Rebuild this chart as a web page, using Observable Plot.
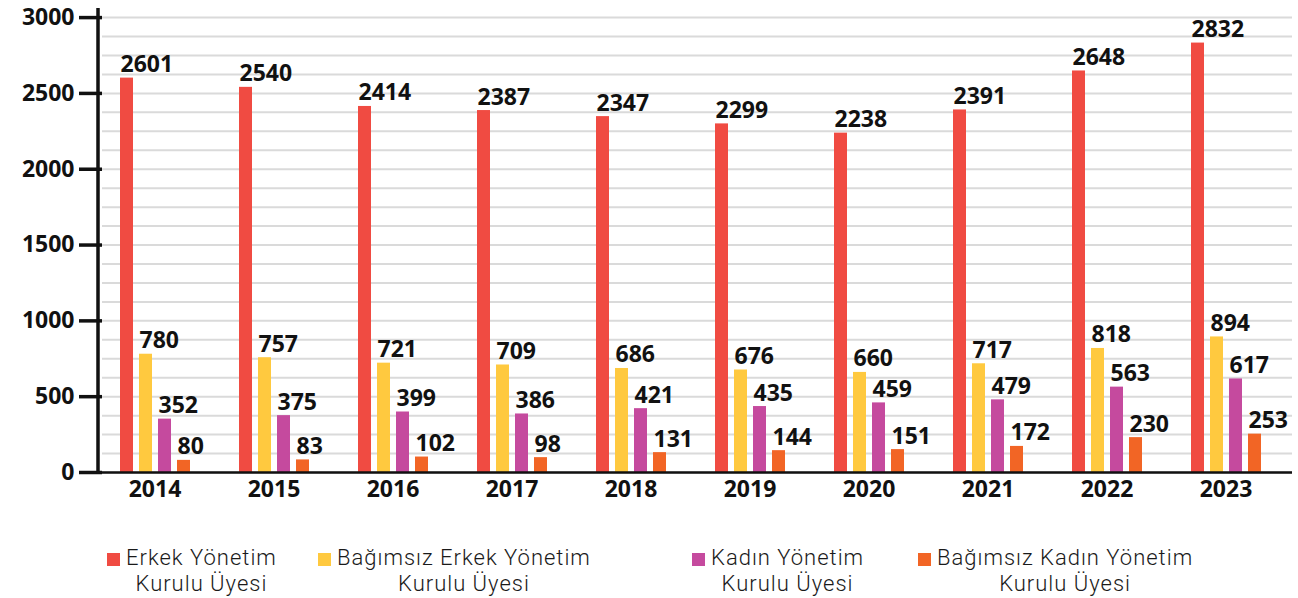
<!DOCTYPE html>
<html>
<head>
<meta charset="utf-8">
<script src="https://cdn.jsdelivr.net/npm/d3@7"></script>
<script src="https://cdn.jsdelivr.net/npm/@observablehq/plot@0.6"></script>
<style>
  html, body { margin: 0; padding: 0; background: #fff; }
  #chart { position: relative; width: 1298px; }
  #legend { position: relative; width: 1298px; height: 84px; font-family: Roboto, sans-serif; font-weight: 300; font-size: 22px; letter-spacing: 1px; color: #1a1a1a; }
  .item { position: absolute; top: 31px; display: flex; align-items: flex-start; }
  .sw { width: 13px; height: 13px; margin-top: 8px; margin-right: 6px; flex: none; }
  .lbl { text-align: center; white-space: nowrap; }
  .lbl div { height: 26px; line-height: 26px; }
  svg text { font-family: "Open Sans", sans-serif; }
</style>
</head>
<body>
<div id="chart"></div>
<div id="legend"></div>
<script>
const years = ["2014","2015","2016","2017","2018","2019","2020","2021","2022","2023"];
const erkek    = [2601, 2540, 2414, 2387, 2347, 2299, 2238, 2391, 2648, 2832];
const bagErkek = [780, 757, 721, 709, 686, 676, 660, 717, 818, 894];
const kadin    = [352, 375, 399, 386, 421, 435, 459, 479, 563, 617];
const bagKadin = [80, 83, 102, 98, 131, 144, 151, 172, 230, 253];
const seriesNames = ["Erkek Yönetim Kurulu Üyesi", "Bağımsız Erkek Yönetim Kurulu Üyesi", "Kadın Yönetim Kurulu Üyesi", "Bağımsız Kadın Yönetim Kurulu Üyesi"];
const legendLine1 = ["Erkek Yönetim", "Bağımsız Erkek Yönetim", "Kadın Yönetim", "Bağımsız Kadın Yönetim"];
const legendLine2 = ["Kurulu Üyesi", "Kurulu Üyesi", "Kurulu Üyesi", "Kurulu Üyesi"];
const colors = ["#F04B42", "#FFC93F", "#C54A9E", "#F26525"];
const yTicks = [0, 500, 1000, 1500, 2000, 2500, 3000];
const gridValues = d3.range(0, 3001, 125);

const seriesValues = [erkek, bagErkek, kadin, bagKadin];
const rows = [];
years.forEach((y, i) => seriesNames.forEach((s, j) => rows.push({year: y, series: s, value: seriesValues[j][i]})));

const chart = Plot.plot({
  width: 1298,
  height: 514,
  marginLeft: 98,
  marginRight: 2,
  marginTop: 8,
  marginBottom: 42,
  style: {background: "white", fontFamily: "Open Sans, sans-serif"},
  fx: {domain: years, padding: 0, label: null},
  x: {domain: seriesNames, paddingInner: 0.33, paddingOuter: 1.27, align: 0.367, axis: null},
  y: {domain: [0, 3060], axis: null},
  color: {domain: seriesNames, range: colors},
  marks: [
    Plot.ruleY(gridValues, {stroke: "#dadada", strokeWidth: 2}),
    Plot.barY(rows, {fx: "year", x: "series", y: "value", fill: "series"}),
    Plot.text(rows, {fx: "year", x: "series", y: "value", text: d => String(d.value),
      textAnchor: "start", lineAnchor: "bottom", dx: -6.5, dy: -6,
      fontSize: 23, fontWeight: 700, fill: "#111"}),
    Plot.ruleY([0], {stroke: "#111", strokeWidth: 2.5}),
    Plot.axisY({ticks: yTicks, tickSize: 23, tickPadding: 5, strokeWidth: 3.5, stroke: "#111",
      fontSize: 23, fontWeight: 700, fill: "#111", label: null, tickFormat: d => String(d)}),
    Plot.axisFx({anchor: "bottom", tickSize: 0, tickPadding: 8, dx: -7, fontSize: 23, fontWeight: 700, fill: "#111", label: null})
  ]
});
document.getElementById("chart").appendChild(chart);

// vertical y-axis line along the left edge of the frame, derived from the y scale
const yr = chart.scale("y").range;
d3.select(chart).append("line")
  .attr("x1", 98).attr("x2", 98)
  .attr("y1", Math.max(...yr) + 2).attr("y2", Math.min(...yr))
  .attr("stroke", "#111").attr("stroke-width", 3.5);

const lefts = [107, 318, 692, 918];
const legend = document.getElementById("legend");
seriesNames.forEach((s, i) => {
  const item = document.createElement("div");
  item.className = "item";
  item.style.left = lefts[i] + "px";
  const sw = document.createElement("div");
  sw.className = "sw";
  sw.style.background = colors[i];
  const lbl = document.createElement("div");
  lbl.className = "lbl";
  const l1 = document.createElement("div"); l1.textContent = legendLine1[i];
  const l2 = document.createElement("div"); l2.textContent = legendLine2[i];
  lbl.appendChild(l1); lbl.appendChild(l2);
  item.appendChild(sw);
  item.appendChild(lbl);
  legend.appendChild(item);
});
</script>
</body>
</html>
